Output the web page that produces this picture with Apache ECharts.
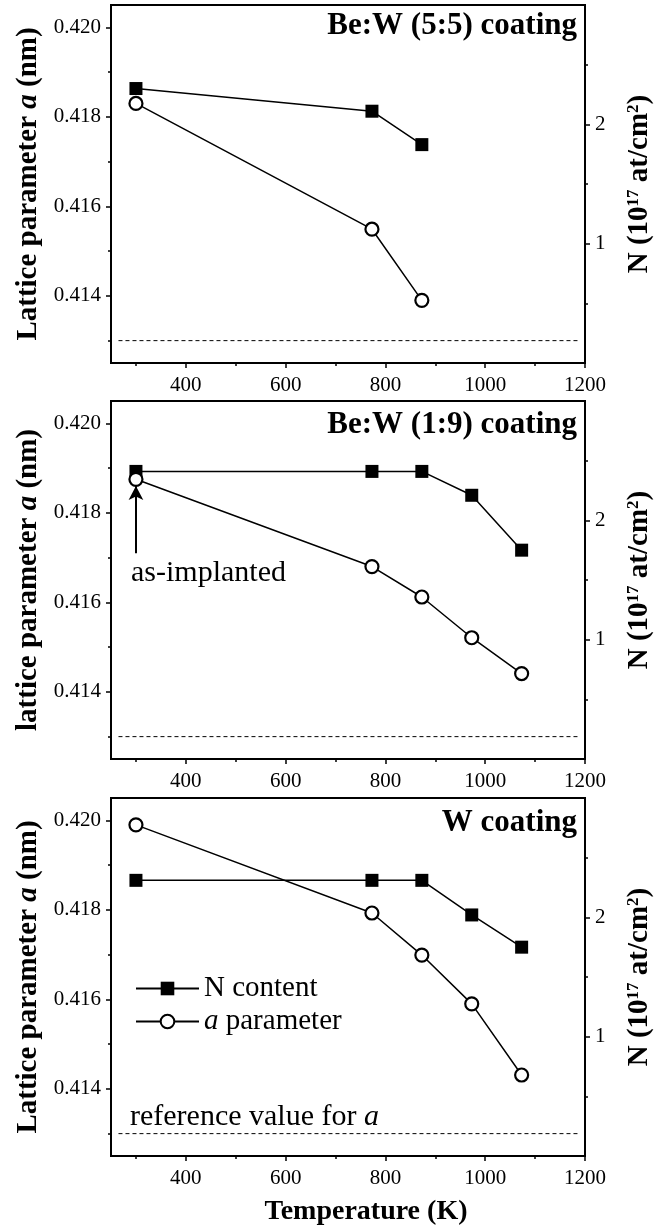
<!DOCTYPE html>
<html>
<head>
<meta charset="utf-8">
<script src="https://cdn.jsdelivr.net/npm/echarts@6/dist/echarts.min.js"></script>
<style>
html, body { margin: 0; padding: 0; background: #fff; }
#chart { width: 662px; height: 1230px; }
</style>
</head>
<body>
<div id="chart"></div>
<script>
// data (temperature in K)
const temps55 = [300, 773, 873];
const nContent55 = [2.30, 2.11, 1.83];
const aParam55 = [0.4183, 0.41549, 0.4139];

const temps19 = [300, 773, 873, 973, 1073];
const nContent19 = [2.41, 2.41, 2.41, 2.21, 1.75];
const aParam19 = [0.41875, 0.4168, 0.41612, 0.41521, 0.41441];

const tempsW = [300, 773, 873, 973, 1073];
const nContentW = [2.31, 2.31, 2.31, 2.02, 1.75];
const aParamW = [0.4199, 0.41793, 0.41699, 0.4159, 0.41431];

const refValue = 0.413;          // reference lattice parameter
const refSpan = [265, 1190];     // x extent of dashed line
const arrowX = 300;
const arrowY = [0.4171, 0.4186]; // as-implanted arrow (tail, tip)

const xMajor = [400, 600, 800, 1000, 1200];
const xMinor = [300, 500, 700, 900, 1100];
const yLeftMajor = [0.414, 0.416, 0.418, 0.420];
const yLeftMinor = [0.413, 0.415, 0.417, 0.419];
const yRightMajor = [1, 2];
const yRightMinor = [0.5, 1.5, 2.5];

const panelTitles = ['Be:W (5:5) coating', 'Be:W (1:9) coating', 'W coating'];
const leftNames = ['Lattice parameter {i|a} (nm)', 'lattice parameter {i|a} (nm)', 'Lattice parameter {i|a} (nm)'];

const FONT = '"Liberation Serif", "Times New Roman", serif';
const gridTops = [5, 401, 798];
const gridH = 358;
const titleY = [26, 425, 823];

const panels = [
    { t: temps55, n: nContent55, a: aParam55 },
    { t: temps19, n: nContent19, a: aParam19 },
    { t: tempsW, n: nContentW, a: aParamW }
];

const chart = echarts.init(document.getElementById('chart'), null, { renderer: 'canvas' });

const tickStyle = { color: '#000', width: 1.5 };
const lineAxis = { show: true, lineStyle: { color: '#000', width: 2 } };

let grids = [], xAxes = [], yAxes = [], series = [], graphics = [];

panels.forEach((p, g) => {
    grids.push({
        left: 111, right: 70, top: gridTops[g], height: gridH,
        show: true, borderColor: '#000', borderWidth: 2
    });

    xAxes.push({
        gridIndex: g, type: 'value', min: 250, max: 1200, position: 'bottom',
        axisLine: lineAxis,
        axisTick: { show: true, length: 5, lineStyle: tickStyle, customValues: xMajor },
        axisLabel: {
            show: true, customValues: xMajor, margin: 12, color: '#000', fontFamily: FONT, fontSize: 21,
            formatter: v => String(v)
        },
        splitLine: { show: false },
        name: g === 2 ? 'Temperature (K)' : '',
        nameLocation: 'middle', nameGap: 42,
        nameTextStyle: { fontFamily: FONT, fontSize: 28, fontWeight: 'bold', color: '#000', padding: [0, 0, 0, 36] }
    });
    xAxes.push({
        gridIndex: g, type: 'value', min: 250, max: 1200, position: 'bottom',
        axisLine: { show: false },
        axisTick: { show: true, length: 3, lineStyle: tickStyle, customValues: xMinor },
        axisLabel: { show: false }, splitLine: { show: false }
    });

    yAxes.push({
        gridIndex: g, type: 'value', min: 0.4125, max: 0.4205, position: 'left',
        axisLine: lineAxis,
        axisTick: { show: true, length: 5, lineStyle: tickStyle, customValues: yLeftMajor },
        axisLabel: {
            show: true, customValues: yLeftMajor, margin: 10, color: '#000', fontFamily: FONT, fontSize: 21,
            formatter: v => v.toFixed(3)
        },
        splitLine: { show: false },
        name: leftNames[g], nameLocation: 'middle', nameGap: 68,
        nameTextStyle: {
            fontFamily: FONT, fontSize: 29, fontWeight: 'bold', color: '#000',
            rich: { i: { fontFamily: FONT, fontSize: 29, fontWeight: 'bold', fontStyle: 'italic', color: '#000' } }
        }
    });
    yAxes.push({
        gridIndex: g, type: 'value', min: 0.4125, max: 0.4205, position: 'left',
        axisLine: { show: false },
        axisTick: { show: true, length: 3, lineStyle: tickStyle, customValues: yLeftMinor },
        axisLabel: { show: false }, splitLine: { show: false }
    });
    yAxes.push({
        gridIndex: g, type: 'value', min: 0, max: 3, position: 'right',
        axisLine: lineAxis,
        axisTick: { show: true, length: 5, lineStyle: tickStyle, customValues: yRightMajor },
        axisLabel: { show: true, customValues: yRightMajor, margin: 10, color: '#000', fontFamily: FONT, fontSize: 21 },
        splitLine: { show: false },
        name: 'N (10{s|17} at/cm{s|2})', nameLocation: 'middle', nameGap: 40,
        nameTextStyle: {
            fontFamily: FONT, fontSize: 29, fontWeight: 'bold', color: '#000',
            rich: { s: { fontFamily: FONT, fontSize: 17, fontWeight: 'bold', color: '#000', verticalAlign: 'top' } }
        }
    });
    yAxes.push({
        gridIndex: g, type: 'value', min: 0, max: 3, position: 'right',
        axisLine: { show: false },
        axisTick: { show: true, length: 3, lineStyle: tickStyle, customValues: yRightMinor },
        axisLabel: { show: false }, splitLine: { show: false }
    });

    const sfx = g === 2 ? '' : ' ' + g;
    series.push({
        name: 'N content' + sfx, type: 'line', xAxisIndex: 2 * g, yAxisIndex: 4 * g + 2,
        data: p.t.map((t, i) => [t, p.n[i]]),
        symbol: 'rect', symbolSize: 13,
        itemStyle: { color: '#000' },
        lineStyle: { color: '#000', width: 1.5 },
        z: 3
    });
    const aSeries = {
        name: 'a parameter' + sfx, type: 'line', xAxisIndex: 2 * g, yAxisIndex: 4 * g,
        data: p.t.map((t, i) => [t, p.a[i]]),
        symbol: 'circle', symbolSize: 13,
        itemStyle: { color: '#fff', borderColor: '#000', borderWidth: 2.2 },
        lineStyle: { color: '#000', width: 1.5 },
        z: 4
    };
    if (g === 1) {
        aSeries.markLine = {
            silent: true, animation: false,
            symbol: ['none', 'arrow'], symbolSize: [11, 14],
            label: { show: false },
            lineStyle: { color: '#000', width: 2, type: 'solid' },
            data: [[{ coord: [arrowX, arrowY[0]] }, { coord: [arrowX, arrowY[1]] }]]
        };
    }
    series.push(aSeries);
    series.push({
        name: 'ref' + g, type: 'line', xAxisIndex: 2 * g, yAxisIndex: 4 * g,
        data: refSpan.map(x => [x, refValue]),
        symbol: 'none', silent: true,
        lineStyle: { color: '#000', width: 1, type: [4, 3] }
    });

    graphics.push({
        type: 'text', x: 577, y: titleY[g], silent: true,
        style: {
            text: panelTitles[g], fill: '#000', fontFamily: FONT, fontSize: 31, fontWeight: 'bold',
            textAlign: 'right', textVerticalAlign: 'middle'
        }
    });
});

graphics.push({
    type: 'text', x: 131, y: 573, silent: true,
    style: { text: 'as-implanted', fill: '#000', fontFamily: FONT, fontSize: 30, textAlign: 'left', textVerticalAlign: 'middle' }
});
graphics.push({
    type: 'text', x: 130, y: 1117, silent: true,
    style: {
        text: 'reference value for {i|a}', fill: '#000', fontFamily: FONT, fontSize: 30,
        textAlign: 'left', textVerticalAlign: 'middle',
        rich: { i: { fontFamily: FONT, fontSize: 30, fontStyle: 'italic', fill: '#000' } }
    }
});

const legendText = {
    fontFamily: FONT, fontSize: 29, color: '#000',
    rich: { i: { fontFamily: FONT, fontSize: 29, fontStyle: 'italic', color: '#000' } }
};

const option = {
    animation: false,
    backgroundColor: '#fff',
    grid: grids,
    xAxis: xAxes,
    yAxis: yAxes,
    legend: [
        {
            data: ['N content'], left: 130, top: 969, itemWidth: 63, itemHeight: 17,
            textStyle: legendText, selectedMode: false
        },
        {
            data: ['a parameter'], left: 130, top: 1002, itemWidth: 63, itemHeight: 17,
            textStyle: legendText, selectedMode: false,
            formatter: name => '{i|a} parameter'
        }
    ],
    series: series,
    graphic: graphics
};

chart.setOption(option);
</script>
</body>
</html>
